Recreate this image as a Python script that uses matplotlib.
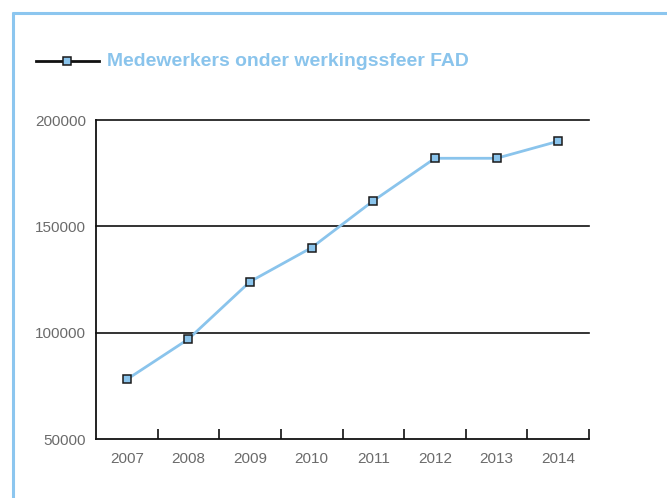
#!/usr/bin/env python3
"""Line chart: Medewerkers onder werkingssfeer FAD, 2007-2014."""

import matplotlib
matplotlib.use('Agg')
import matplotlib.pyplot as plt
from matplotlib.lines import Line2D

years = ['2007', '2008', '2009', '2010', '2011', '2012', '2013', '2014']
medewerkers = [78000, 97000, 124000, 140000, 162000, 182000, 182000, 190000]
y_ticks = [50000, 100000, 150000, 200000]
series_label = 'Medewerkers onder werkingssfeer FAD'

BLUE = '#8ac4ec'
FRAME = '#8cc6ef'
GREY = '#6b6b6b'

plt.rcParams['font.family'] = ['Liberation Sans', 'DejaVu Sans']

W, H = 667, 498
fig = plt.figure(figsize=(W / 100, H / 100), dpi=100)


def fx(px):
    return px / W


def fy(py):
    return 1 - py / H


# Light blue frame (top and left edges visible).
fig.add_artist(Line2D([fx(12.4), fx(W + 5)], [fy(13.5), fy(13.5)], color=FRAME,
                      lw=2.2, solid_capstyle='butt'))
fig.add_artist(Line2D([fx(13.5), fx(13.5)], [fy(12.4), fy(H + 5)], color=FRAME,
                      lw=2.2, solid_capstyle='butt'))

ax = fig.add_axes([fx(96), fy(439), fx(589 - 96), fy(120) - fy(439)])

x = list(range(len(years)))
ax.plot(x, medewerkers, color=BLUE, lw=2, marker='s', markersize=5.5,
        markerfacecolor=BLUE, markeredgecolor='#1a1a1a', markeredgewidth=1.1,
        zorder=3)

ax.set_xlim(-0.5, len(years) - 0.5)
ax.set_ylim(y_ticks[0], y_ticks[-1])
ax.set_yticks(y_ticks)
ax.set_yticklabels([str(v) for v in y_ticks], color=GREY, fontsize=11)
ax.tick_params(axis='y', length=0, pad=7)

# Category labels centred, tick marks at category boundaries.
ax.set_xticks(x)
ax.set_xticklabels(years, color=GREY, fontsize=11)
ax.set_xticks([i + 0.5 for i in x], minor=True)
ax.tick_params(axis='x', which='major', length=0, pad=9)
ax.tick_params(axis='x', which='minor', direction='in', length=7, width=1.3, color='#222222')

for v in y_ticks[1:]:
    ax.axhline(v, color='#111111', lw=1.2, zorder=1, clip_on=False)

for side in ('top', 'right'):
    ax.spines[side].set_visible(False)
for side in ('left', 'bottom'):
    ax.spines[side].set_color('#111111')
    ax.spines[side].set_linewidth(1.3)

# Legend drawn by hand above the plot.
fig.add_artist(Line2D([fx(36), fx(99)], [fy(61), fy(61)], color='#111111', lw=2))
fig.add_artist(Line2D([fx(66.5)], [fy(61)], marker='s', markersize=5.5,
                      markerfacecolor=BLUE, markeredgecolor='#1a1a1a', markeredgewidth=1.1))
fig.text(fx(107), fy(61), series_label, color=BLUE, fontsize=13.95,
         fontweight='bold', va='center', ha='left')

fig.savefig('out.png', dpi=100)
